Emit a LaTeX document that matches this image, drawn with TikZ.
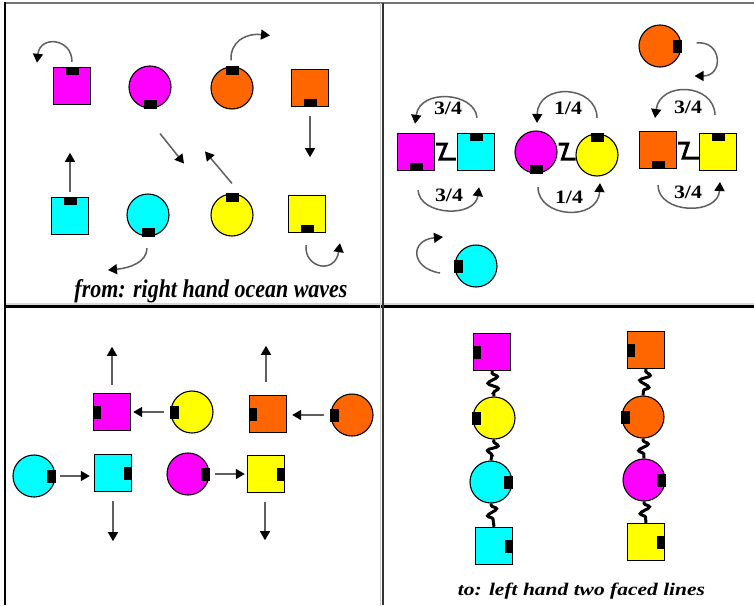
\documentclass[tikz,border=0pt]{standalone}
\usepackage{fontspec}
\setmainfont{Liberation Serif}
\usepackage{graphicx}
\usetikzlibrary{arrows.meta,decorations.pathmorphing}
\definecolor{mag}{RGB}{255,0,255}
\definecolor{cya}{RGB}{0,255,255}
\definecolor{yel}{RGB}{255,255,0}
\definecolor{ora}{RGB}{255,102,0}
\definecolor{lngray}{RGB}{95,95,95}
\tikzset{
  sqr/.style={draw=black, line width=1.4pt, minimum size=37pt, inner sep=0pt},
  crc/.style={circle, draw=black, line width=1.1pt, minimum size=42pt, inner sep=0pt},
  arr/.style={draw=lngray, line width=1.5pt, -{Triangle[color=black,length=9pt,width=10pt]}},
  zc/.style={draw=black, line width=3pt},
  spring/.style={draw=black, line width=3pt, decorate,
    decoration={snake, amplitude=5pt, segment length=12pt, pre length=2pt, post length=2pt}},
  lab/.style={inner sep=0pt},
}
\newcommand\tkN[1]{\fill ([xshift=-6.5pt]#1.north) rectangle ([xshift=6.5pt,yshift=-8.5pt]#1.north);}
\newcommand\tkS[1]{\fill ([xshift=-6.5pt]#1.south) rectangle ([xshift=6.5pt,yshift=8.5pt]#1.south);}
\newcommand\tkE[1]{\fill ([yshift=-6.5pt]#1.east) rectangle ([xshift=-8.5pt,yshift=6.5pt]#1.east);}
\newcommand\tkW[1]{\fill ([yshift=-6.5pt]#1.west) rectangle ([xshift=8.5pt,yshift=6.5pt]#1.west);}
\newcommand\frlab[1]{\resizebox{28pt}{12.5pt}{\bfseries #1}}
\begin{document}
\begin{tikzpicture}[x=1pt,y=-1pt]
\useasboundingbox (0,0) rectangle (754,605);
\fill[white] (0,0) rectangle (754,605);
% frame
\draw[black!55, line width=2pt] (5,3) -- (754,3);
\draw[black!15, line width=1.5pt] (5,304) -- (754,304);
\draw[black, line width=2.2pt] (5,306.5) -- (754,306.5);
\draw[black!20, line width=1.2pt] (380.5,3) -- (380.5,605);
\draw[black!80, line width=2pt] (382.5,3) -- (382.5,605);
\draw[black, line width=2.5pt] (5,2) -- (5,605);

% ===== top-left =====
\node[sqr, fill=mag] (A1) at (72,86) {};  \tkN{A1}
\node[crc, fill=mag] (A2) at (150,87) {}; \tkS{A2}
\node[crc, fill=ora] (A3) at (232,88) {}; \tkN{A3}
\node[sqr, fill=ora] (A4) at (310,88) {}; \tkS{A4}
\node[sqr, fill=cya] (A5) at (70,216) {}; \tkN{A5}
\node[crc, fill=cya] (A6) at (148,215) {}; \tkS{A6}
\node[crc, fill=yel] (A7) at (232,215) {}; \tkN{A7}
\node[sqr, fill=yel] (A8) at (307,214) {}; \tkS{A8}

\draw[arr] ([yshift=-9pt]A4.south) -- ([yshift=-50pt]A4.south);
\draw[arr] ([yshift=5pt]A5.north) -- ([yshift=44pt]A5.north);
\draw[arr] ([shift={(10pt,-25pt)}]A2.south) -- ([shift={(34pt,-55pt)}]A2.south);
\draw[arr] ([yshift=10pt]A7.north) -- ([shift={(-27pt,42pt)}]A7.north);
\draw[arr] ([yshift=5pt]A1.north) .. controls (72,38) and (40,35) .. ([shift={(-35pt,4pt)}]A1.north);
\draw[arr] ([shift={(-1pt,6pt)}]A3.north) .. controls (230,42) and (245,33) .. ([shift={(38pt,31pt)}]A3.north);
\draw[arr] ([shift={(-1pt,-11.5pt)}]A6.south) .. controls (147,262) and (130,268) .. ([shift={(-40pt,-33.5pt)}]A6.south);
\draw[arr] ([shift={(-1pt,-12pt)}]A8.south) .. controls (304,268) and (335,275) .. ([shift={(33pt,-10pt)}]A8.south);

\node[anchor=base, inner sep=0pt] (T1) at (211,297)
  {\resizebox{273pt}{18pt}{\bfseries\itshape from: right hand ocean waves}};

% ===== top-right =====
\node[crc, fill=ora] (B0) at (660,46) {}; \tkE{B0}
\draw[arr] ([shift={(15pt,3pt)}]B0.east) .. controls (722,40) and (724,76) .. ([shift={(13pt,-30pt)}]B0.east);

\node[sqr, fill=mag] (B1) at (416,152) {}; \tkS{B1}
\node[sqr, fill=cya] (B2) at (476,152) {}; \tkN{B2}
\draw[zc] (B1.east) ++(1pt,8pt) -- ++(10pt,0pt) -- ++(-6pt,-15pt) -- ++(15.6pt,0pt);
\draw[arr] ([shift={(1pt,15pt)}]B2.north) .. controls (475,92) and (420,88) .. ([shift={(-1pt,9pt)}]B1.north);
\draw[arr] ([shift={(2pt,-19pt)}]B1.south) .. controls (420,216) and (475,218) .. ([shift={(3pt,-16pt)}]B2.south);
\node[lab] (L1) at (448,108) {\frlab{3/4}};
\node[lab] (L2) at (449,195) {\frlab{3/4}};

\node[crc, fill=mag] (B3) at (536,152) {}; \tkS{B3}
\node[crc, fill=yel] (B4) at (597,155) {}; \tkN{B4}
\draw[zc] (B3.east) ++(1pt,8pt) -- ++(9pt,0pt) -- ++(-5pt,-15pt) -- ++(13pt,0pt);
\draw[arr] ([yshift=15.5pt]B4.north) .. controls (597,85) and (538,82) .. ([shift={(1pt,7.5pt)}]B3.north);
\draw[arr] ([shift={(2pt,-13.5pt)}]B3.south) .. controls (538,218) and (598,222) .. ([shift={(3pt,-6.5pt)}]B4.south);
\node[lab] (L3) at (568,108) {\frlab{1/4}};
\node[lab] (L4) at (569,197) {\frlab{1/4}};

\node[sqr, fill=ora] (B5) at (658,150) {}; \tkS{B5}
\node[sqr, fill=yel] (B6) at (718,152) {}; \tkN{B6}
\draw[zc] (B5.east) ++(1pt,7pt) -- ++(10pt,0pt) -- ++(-5pt,-15pt) -- ++(16pt,0pt);
\draw[arr] ([shift={(-3pt,17.8pt)}]B6.north) .. controls (714,83) and (660,81) .. ([shift={(-3pt,12.8pt)}]B5.north);
\draw[arr] ([yshift=-15.8pt]B5.south) .. controls (658,214) and (718,216) .. ([shift={(2pt,-10.8pt)}]B6.south);
\node[lab] (L5) at (688,107.5) {\frlab{3/4}};
\node[lab] (L6) at (688,192.5) {\frlab{3/4}};

\node[crc, fill=cya] (B7) at (476,266) {}; \tkW{B7}
\draw[arr] ([shift={(-14.5pt,-7pt)}]B7.west) .. controls (410,268) and (410,240) .. ([shift={(-11.5pt,29pt)}]B7.west);

% ===== bottom-left =====
\node[sqr, fill=mag] (C1) at (112,412) {}; \tkW{C1}
\node[crc, fill=yel] (C2) at (192,412) {}; \tkW{C2}
\node[sqr, fill=ora] (C3) at (268,414) {}; \tkW{C3}
\node[crc, fill=ora] (C4) at (352,415) {}; \tkW{C4}
\node[crc, fill=cya] (C5) at (34,476) {};  \tkE{C5}
\node[sqr, fill=cya] (C6) at (113,473) {}; \tkE{C6}
\node[crc, fill=mag] (C7) at (188,474) {}; \tkE{C7}
\node[sqr, fill=yel] (C8) at (266,474) {}; \tkE{C8}

\draw[arr] ([yshift=8pt]C1.north) -- ([yshift=46pt]C1.north);
\draw[arr, shorten <=6pt, shorten >=2pt] (C2.west) -- (C1.east);
\draw[arr] ([shift={(-2pt,13pt)}]C3.north) -- ([shift={(-2pt,49pt)}]C3.north);
\draw[arr, shorten <=6pt, shorten >=5pt] (C4.west) -- (C4.west -| C3.east);
\draw[arr, shorten <=4pt, shorten >=4pt] (C5.east) -- (C5.east -| C6.west);
\draw[arr, shorten <=5pt, shorten >=2pt] (C7.east) -- (C7.east -| C8.west);
\draw[arr] ([yshift=-9pt]C6.south) -- ([yshift=-49pt]C6.south);
\draw[arr] ([shift={(-1pt,-9pt)}]C8.south) -- ([shift={(-1pt,-47pt)}]C8.south);

% ===== bottom-right =====
\node[sqr, fill=mag] (D1) at (492,352) {}; \tkW{D1}
\node[crc, fill=yel] (D2) at (494,418) {}; \tkW{D2}
\node[crc, fill=cya] (D3) at (491,482) {}; \tkE{D3}
\node[sqr, fill=cya] (D4) at (494,546) {}; \tkE{D4}
\node[sqr, fill=ora] (E1) at (646,350) {}; \tkW{E1}
\node[crc, fill=ora] (E2) at (643,417) {}; \tkW{E2}
\node[crc, fill=mag] (E3) at (644,480) {}; \tkE{E3}
\node[sqr, fill=yel] (E4) at (646,542) {}; \tkE{E4}

\draw[spring] (D1.south) -- (D2.north);
\draw[spring] (D2.south) -- (D3.north);
\draw[spring] (D3.south) -- (D4.north);
\draw[spring] (E1.south) -- (E2.north);
\draw[spring] (E2.south) -- (E3.north);
\draw[spring] (E3.south) -- (E4.north);

\node[anchor=base, inner sep=0pt] (T2) at (581.5,595)
  {\resizebox{247pt}{12.5pt}{\bfseries\itshape to: left hand two faced lines}};
\end{tikzpicture}
\end{document}
